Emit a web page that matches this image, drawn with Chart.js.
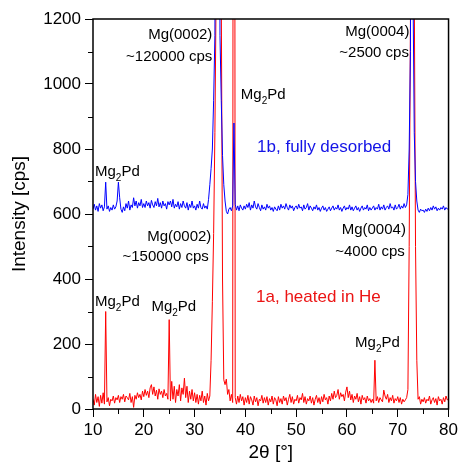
<!DOCTYPE html>
<html>
<head>
<meta charset="utf-8">
<script src="https://cdn.jsdelivr.net/npm/chart.js@4"></script>
<style>
html, body { margin: 0; padding: 0; background: #fff; }
#box { width: 461px; height: 464px; }
</style>
</head>
<body>
<div id="box"><canvas id="xrd"></canvas></div>
<script>
// 2theta grid, 10..80 deg in 0.25 deg steps
var angles = [];
for (var i = 0; i <= 280; i++) angles.push(10 + i * 0.25);

// 1a, heated in He (red), cps, 20 points per row = 5 deg
var counts1a = [
  30, 12, 45, 20, 38, 8, 42, 18, 50, 15, 300, 22, 35, 10, 30, 25, 40, 18, 35, 28,
  42, 20, 38, 30, 45, 22, 40, 35, 28, 48, 20, 38, 5, 42, 30, 50, 35, 45, 28, 55,
  38, 60, 42, 55, 35, 65, 75, 45, 68, 40, 58, 30, 62, 45, 55, 35, 60, 40, 48, 30,
  275, 25, 85, 30, 70, 20, 60, 40, 75, 25, 65, 45, 95, 35, 70, 20, 55, 30, 60, 25,
  50, 20, 45, 15, 42, 25, 55, 20, 40, 12, 48, 25, 40, 150, 330, 540, 850, 1300, 150000, 20000,
  4000, 1300, 400, 90, 75, 92, 45, 60, 25, 45, 20, 5000, 35, 15, 40, 20, 45, 25, 38, 12,
  35, 20, 42, 15, 38, 28, 12, 40, 22, 35, 10, 30, 25, 42, 18, 35, 20, 38, 12, 32,
  22, 40, 15, 35, 28, 10, 38, 20, 32, 15, 40, 25, 35, 12, 30, 45, 20, 38, 15, 30,
  25, 42, 18, 35, 28, 48, 20, 38, 15, 32, 25, 40, 18, 35, 12, 30, 42, 20, 35, 15,
  38, 22, 45, 28, 35, 15, 40, 25, 48, 30, 55, 35, 42, 60, 30, 50, 38, 45, 25, 52,
  68, 35, 55, 28, 45, 20, 40, 30, 48, 22, 38, 15, 42, 28, 35, 18, 40, 25, 32, 20,
  30, 18, 150, 25, 38, 20, 35, 28, 22, 58, 40, 30, 45, 20, 35, 25, 42, 18, 32, 25,
  38, 20, 35, 15, 30, 22, 28, 35, 60, 500, 1200, 4000, 3000, 1300, 500, 150, 30, 38, 15, 30,
  22, 35, 18, 30, 25, 40, 15, 28, 35, 20, 32, 12, 38, 25, 30, 15, 35, 22, 40, 28,
  30
];

// 1b, fully desorbed (blue), cps
var counts1b = [
  615, 630, 612, 625, 608, 632, 618, 628, 610, 622, 698, 615, 625, 608, 620, 612, 628, 615, 622, 640,
  698, 650, 615, 605, 622, 610, 632, 618, 640, 612, 628, 620, 650, 625, 640, 618, 635, 625, 645, 620,
  632, 620, 640, 625, 635, 618, 642, 628, 620, 638, 625, 648, 622, 635, 618, 640, 625, 632, 615, 638,
  628, 640, 622, 645, 618, 630, 622, 638, 615, 632, 620, 640, 625, 618, 635, 612, 630, 620, 640, 618,
  625, 612, 630, 618, 640, 620, 615, 632, 618, 625, 615, 645, 690, 740, 800, 950, 1150, 3000, 120000, 3000,
  1150, 950, 780, 690, 640, 608, 600, 615, 620, 610, 625, 880, 630, 612, 625, 610, 628, 618, 612, 625,
  615, 630, 620, 635, 612, 628, 618, 640, 622, 615, 632, 620, 610, 628, 615, 622, 612, 630, 618, 625,
  612, 620, 608, 622, 615, 610, 625, 612, 630, 618, 625, 615, 632, 620, 612, 628, 618, 625, 610, 620,
  625, 615, 630, 618, 622, 610, 628, 615, 620, 632, 612, 625, 618, 610, 622, 615, 628, 612, 620, 608,
  618, 625, 612, 620, 608, 615, 622, 610, 618, 625, 612, 620, 615, 628, 612, 620, 608, 618, 625, 612,
  620, 615, 628, 612, 622, 610, 618, 625, 612, 620, 608, 618, 625, 612, 620, 615, 628, 610, 620, 612,
  618, 625, 612, 620, 615, 630, 612, 622, 615, 628, 612, 620, 625, 615, 632, 618, 622, 612, 628, 615,
  620, 630, 615, 625, 618, 632, 620, 628, 660, 800, 1100, 2500, 1300, 850, 700, 640, 612, 605, 615, 610,
  612, 605, 615, 608, 618, 610, 620, 612, 625, 615, 622, 610, 618, 612, 620, 615, 625, 612, 620, 615,
  618
];

var xTicks = [10, 20, 30, 40, 50, 60, 70, 80];
var yTicks = [0, 200, 400, 600, 800, 1000, 1200];

// annotations in data coordinates; "_2" = subscript 2
var notes = [
  { text: "Mg(0002)", x: 33.5, y: 1150, align: "right", color: "#000" },
  { text: "~120000 cps", x: 33.5, y: 1083, align: "right", color: "#000" },
  { text: "Mg(0004)", x: 72.3, y: 1160, align: "right", color: "#000" },
  { text: "~2500 cps", x: 72.2, y: 1095, align: "right", color: "#000" },
  { text: "Mg_2Pd", x: 39.1, y: 966, align: "left", color: "#000" },
  { text: "1b, fully desorbed", x: 42.3, y: 806, align: "left", color: "rgb(20,20,230)", size: 17 },
  { text: "Mg_2Pd", x: 10.4, y: 729, align: "left", color: "#000" },
  { text: "Mg(0002)", x: 33.3, y: 529, align: "right", color: "#000" },
  { text: "~150000 cps", x: 32.8, y: 468, align: "right", color: "#000" },
  { text: "Mg(0004)", x: 71.6, y: 551, align: "right", color: "#000" },
  { text: "~4000 cps", x: 71.4, y: 483, align: "right", color: "#000" },
  { text: "1a, heated in He", x: 42.1, y: 345, align: "left", color: "rgb(235,20,20)", size: 17 },
  { text: "Mg_2Pd", x: 10.4, y: 329, align: "left", color: "#000" },
  { text: "Mg_2Pd", x: 21.5, y: 314, align: "left", color: "#000" },
  { text: "Mg_2Pd", x: 61.6, y: 203, align: "left", color: "#000" }
];

var FONT = "'Liberation Sans', Arial, sans-serif";

function points(ys) {
  return angles.map(function (a, i) { return { x: a, y: ys[i] }; });
}

function drawNote(ctx, n, px, py) {
  var size = n.size || 15;
  var parts = n.text.split(/_(\d)/);
  var segs = [];
  for (var k = 0; k < parts.length; k++) {
    if (parts[k] === "") continue;
    segs.push({ t: parts[k], sub: k % 2 === 1 });
  }
  var total = 0;
  segs.forEach(function (s) {
    ctx.font = (s.sub ? 10 : size) + "px " + FONT;
    s.w = ctx.measureText(s.t).width;
    total += s.w;
  });
  var cx = n.align === "right" ? px - total : px;
  ctx.fillStyle = n.color;
  ctx.textAlign = "left";
  ctx.textBaseline = "middle";
  segs.forEach(function (s) {
    ctx.font = (s.sub ? 10 : size) + "px " + FONT;
    ctx.fillText(s.t, cx, s.sub ? py + 6 : py);
    cx += s.w;
  });
}

var framePlugin = {
  id: "frame",
  afterDraw: function (chart) {
    var ctx = chart.ctx, a = chart.chartArea;
    var xs = chart.scales.x, ys = chart.scales.y;
    ctx.save();
    // minor ticks
    ctx.strokeStyle = "#000";
    ctx.lineWidth = 1;
    ctx.beginPath();
    for (var v = 100; v < 1200; v += 200) {
      var py = Math.round(ys.getPixelForValue(v)) + 0.5;
      ctx.moveTo(a.left - 5, py);
      ctx.lineTo(a.left, py);
    }
    for (var t = 15; t < 80; t += 10) {
      var px = Math.round(xs.getPixelForValue(t)) + 0.5;
      ctx.moveTo(px, a.bottom);
      ctx.lineTo(px, a.bottom + 5);
    }
    ctx.stroke();
    // box
    ctx.lineWidth = 1.5;
    ctx.strokeRect(a.left, a.top, a.right - a.left, a.bottom - a.top);
    // labels
    notes.forEach(function (n) {
      drawNote(ctx, n, xs.getPixelForValue(n.x), ys.getPixelForValue(n.y));
    });
    ctx.restore();
  }
};

var ctx = document.getElementById("xrd").getContext("2d");
var chart = new Chart(ctx, {
  type: "line",
  data: {
    datasets: [{
      label: "1b, fully desorbed",
      data: points(counts1b),
      borderColor: "rgb(0,0,255)",
      borderWidth: 1,
      pointRadius: 0,
      tension: 0
    }, {
      label: "1a, heated in He",
      data: points(counts1a),
      borderColor: "rgb(255,0,0)",
      borderWidth: 1,
      pointRadius: 0,
      tension: 0
    }]
  },
  options: {
    responsive: true,
    maintainAspectRatio: false,
    animation: false,
    layout: { padding: { top: 19, right: 10, left: 0, bottom: 0 } },
    plugins: { legend: { display: false }, tooltip: { enabled: false } },
    scales: {
      x: {
        type: "linear",
        min: 10,
        max: 80,
        afterBuildTicks: function (s) { s.ticks = xTicks.map(function (v) { return { value: v }; }); },
        afterFit: function (s) { s.height = 55; },
        ticks: { color: "#000", font: { size: 17, family: FONT }, padding: 3, maxRotation: 0,
                 callback: function (v) { return String(v); } },
        grid: { drawOnChartArea: false, tickLength: 8, color: "#000", lineWidth: 1 },
        border: { display: false },
        title: { display: true, text: "2θ [°]", color: "#000", font: { size: 19, family: FONT }, padding: { top: 0, bottom: 0 } }
      },
      y: {
        min: 0,
        max: 1200,
        afterBuildTicks: function (s) { s.ticks = yTicks.map(function (v) { return { value: v }; }); },
        afterFit: function (s) { s.width = 93; },
        ticks: { color: "#000", font: { size: 17, family: FONT }, padding: 4,
                 callback: function (v) { return String(v); } },
        grid: { drawOnChartArea: false, tickLength: 8, color: "#000", lineWidth: 1 },
        border: { display: false },
        title: { display: true, text: "Intensity [cps]", color: "#000", font: { size: 19, family: FONT }, padding: { top: 8, bottom: 0 } }
      }
    }
  },
  plugins: [framePlugin]
});
</script>
</body>
</html>
